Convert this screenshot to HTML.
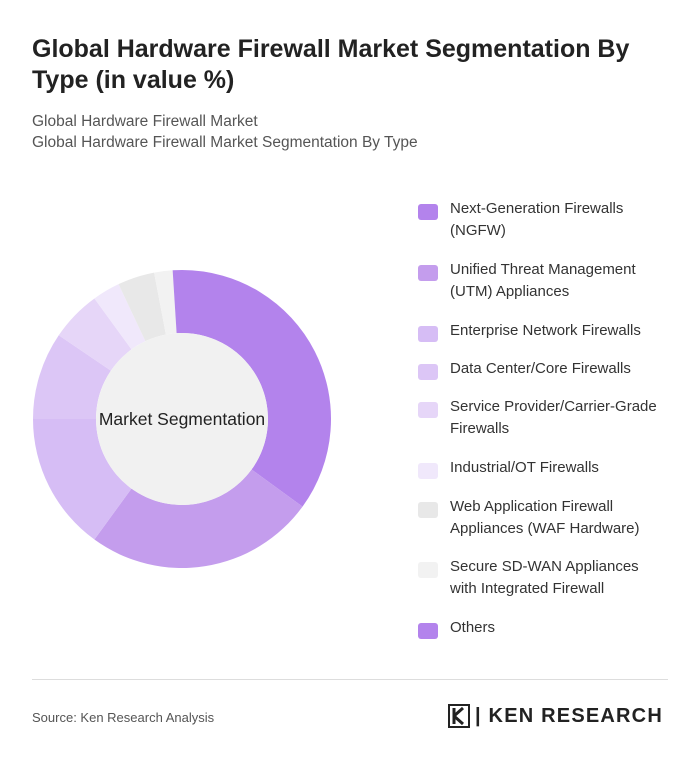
<!DOCTYPE html>
<html><head><meta charset="utf-8"><style>
body{margin:0;background:#fff;font-family:"Liberation Sans",sans-serif;}
.wrap{position:relative;width:700px;height:765px;overflow:hidden;}
h1{position:absolute;left:32px;top:34px;margin:0;font-size:25px;line-height:31px;font-weight:700;color:#222;width:610px;}
.sub{position:absolute;left:32px;font-size:15.5px;color:#555;}
.leg{position:absolute;left:418px;font-size:15px;line-height:22px;color:#333;white-space:nowrap;}
.sw{position:absolute;left:418px;width:20px;height:16px;border-radius:3px;}
</style></head><body>
<div class="wrap">
<h1>Global Hardware Firewall Market Segmentation By Type (in value %)</h1>
<div class="sub" style="top:113px">Global Hardware Firewall Market</div>
<div class="sub" style="top:134px">Global Hardware Firewall Market Segmentation By Type</div>
<svg id="donut" width="700" height="765" style="position:absolute;left:0;top:0"></svg>
<div id="legend"></div>
<div style="position:absolute;left:32px;top:679px;width:636px;height:1px;background:#ddd"></div>
<div class="sub" style="top:710px;font-size:13px;color:#555">Source: Ken Research Analysis</div>
<div style="position:absolute;left:448px;top:704px;height:24px;display:flex;align-items:center">
<svg width="22" height="24"><rect x="1" y="1" width="20" height="22" fill="none" stroke="#222" stroke-width="2"/><path d="M6 4V20M6 12L15 4M6 12L15 20" stroke="#222" stroke-width="3" fill="none"/></svg>
<span style="margin-left:5px;font-size:20px;font-weight:700;color:#222;letter-spacing:1.2px">| KEN RESEARCH</span>
</div>
</div>
<script>
const categories=["Next-Generation Firewalls (NGFW)","Unified Threat Management (UTM) Appliances","Enterprise Network Firewalls","Data Center/Core Firewalls","Service Provider/Carrier-Grade Firewalls","Industrial/OT Firewalls","Web Application Firewall Appliances (WAF Hardware)","Secure SD-WAN Appliances with Integrated Firewall","Others"];
const values=[35,25,15,9.5,5.5,3,4,2,1];
const colors=["#b383ec","#c49ded","#d6bdf5","#dcc6f6","#e6d6f8","#f0e8fb","#e8e8e8","#f2f2f2","#b383ec"];
const legendLines=[["Next-Generation Firewalls","(NGFW)"],["Unified Threat Management","(UTM) Appliances"],["Enterprise Network Firewalls"],["Data Center/Core Firewalls"],["Service Provider/Carrier-Grade","Firewalls"],["Industrial/OT Firewalls"],["Web Application Firewall","Appliances (WAF Hardware)"],["Secure SD-WAN Appliances","with Integrated Firewall"],["Others"]];
const legendTops=[200,261,322,360,398,459,498,558,619];
const svg=document.getElementById('donut');const NS="http://www.w3.org/2000/svg";
const cx=182,cy=419,R=149,r=86;
const total=values.reduce((a,b)=>a+b,0);
function pt(a,rad){return [cx+rad*Math.sin(a),cy-rad*Math.cos(a)];}
let acc=0;
values.forEach((v,i)=>{
 const a0=acc/total*2*Math.PI;acc+=v;const a1=acc/total*2*Math.PI;
 const [x0,y0]=pt(a0,R),[x1,y1]=pt(a1,R),[x2,y2]=pt(a1,r),[x3,y3]=pt(a0,r);
 const lg=(a1-a0)>Math.PI?1:0;
 const p=document.createElementNS(NS,'path');
 p.setAttribute('d',`M${x0},${y0}A${R},${R} 0 ${lg} 1 ${x1},${y1}L${x2},${y2}A${r},${r} 0 ${lg} 0 ${x3},${y3}Z`);
 p.setAttribute('fill',colors[i]);
 
 
 svg.appendChild(p);
});
const c=document.createElementNS(NS,'circle');c.setAttribute('cx',cx);c.setAttribute('cy',cy);c.setAttribute('r',r);c.setAttribute('fill','#f1f1f1');


svg.appendChild(c);
const t=document.createElementNS(NS,'text');t.setAttribute('x',cx);t.setAttribute('y',cy+6);t.setAttribute('text-anchor','middle');t.setAttribute('font-size','17.5');t.setAttribute('fill','#222');t.setAttribute('font-family','Liberation Sans, sans-serif');t.textContent='Market Segmentation';


svg.appendChild(t);
const L=document.getElementById('legend');
categories.forEach((cat,i)=>{
 const s=document.createElement('div');s.className='sw';s.style.top=(legendTops[i]+4)+'px';s.style.background=colors[i];
 
 
 L.appendChild(s);
 const d=document.createElement('div');d.className='leg';d.style.left='450px';d.style.top=(legendTops[i]-2)+'px';
 d.innerHTML=legendLines[i].join('<br>');
 
 
 L.appendChild(d);
});
</script>
</body></html>
